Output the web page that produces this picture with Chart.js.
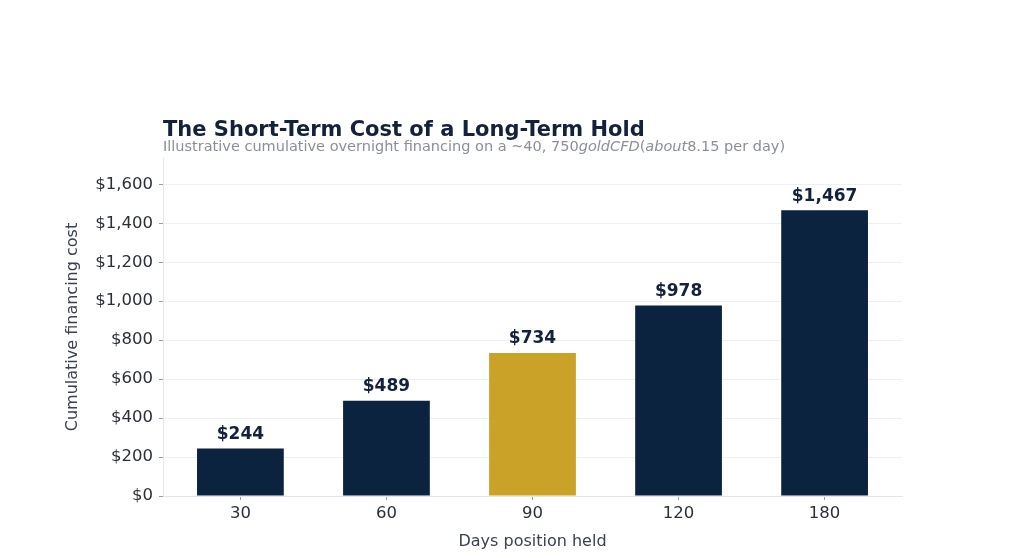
<!DOCTYPE html>
<html>
<head>
<meta charset="utf-8">
<script src="https://cdn.jsdelivr.net/npm/chart.js@4.4.1/dist/chart.umd.min.js"></script>
<style>
  html,body{margin:0;padding:0;background:#fff;}
  #wrap{width:1024px;height:558px;position:relative;}
</style>
</head>
<body>
<div id="wrap"><canvas id="c" width="1024" height="558"></canvas></div>
<script>
const categories = ["30", "60", "90", "120", "180"];
const costValues = [244, 489, 734, 978, 1467];
const valueLabels = ["$244", "$489", "$734", "$978", "$1,467"];
const highlightIndex = 2;
const chartTitle = "The Short-Term Cost of a Long-Term Hold";
const subtitleParts = [
  ["Illustrative cumulative overnight financing on a ~40, 750", "normal"],
  ["goldCFD", "italic"],
  ["(", "normal"],
  ["about", "italic"],
  ["8.15 per day)", "normal"]
];
const yAxisTitle = "Cumulative financing cost";
const xAxisTitle = "Days position held";

const NAVY = "#0c2340";
const GOLD = "#c9a227";
const FONT = "'DejaVu Sans', sans-serif";

const titlePlugin = {
  id: "titlePlugin",
  afterDraw(chart) {
    const ctx = chart.ctx;
    const x0 = 163;
    ctx.save();
    ctx.textBaseline = "middle";
    ctx.textAlign = "left";
    ctx.fillStyle = "#13213b";
    ctx.font = "bold 21px " + FONT;
    ctx.fillText(chartTitle, x0, 131);
    let x = x0;
    ctx.fillStyle = "#8a8f98";
    for (const [txt, style] of subtitleParts) {
      ctx.font = (style === "italic" ? "italic " : "") + "14.5px " + FONT;
      ctx.fillText(txt, x, 147);
      x += ctx.measureText(txt).width;
    }
    ctx.restore();
  }
};

const labelPlugin = {
  id: "labelPlugin",
  afterDatasetsDraw(chart) {
    const ctx = chart.ctx;
    const meta = chart.getDatasetMeta(0);
    ctx.save();
    ctx.font = "bold 17px " + FONT;
    ctx.fillStyle = "#13213b";
    ctx.textAlign = "center";
    ctx.textBaseline = "middle";
    meta.data.forEach((bar, i) => {
      ctx.fillText(valueLabels[i], bar.x, bar.y - 14);
    });
    ctx.restore();
  }
};

new Chart(document.getElementById("c"), {
  type: "bar",
  data: {
    datasets: [{
      data: costValues.map((v, i) => ({ x: i, y: v })),
      backgroundColor: costValues.map((v, i) => i === highlightIndex ? GOLD : NAVY),
      borderWidth: 0,
      categoryPercentage: 1.0,
      barPercentage: 0.594
    }]
  },
  options: {
    responsive: false,
    animation: false,
    devicePixelRatio: 1,
    layout: { padding: { left: 0, right: 122, top: 158, bottom: 0 } },
    plugins: { legend: { display: false }, tooltip: { enabled: false }, title: { display: false } },
    scales: {
      x: {
        type: "linear",
        min: -0.53,
        max: categories.length - 1 + 0.53,
        offset: false,
        grid: { display: true, offset: false, color: "rgba(0,0,0,0)", drawOnChartArea: false, drawTicks: true, tickLength: 4, tickColor: "#9aa0a8" },
        border: { display: true, color: "#e3e6ea", width: 1 },
        ticks: {
          stepSize: 1,
          color: "#2b2f3a",
          font: { family: FONT, size: 16.5 },
          padding: 4,
          callback: (v) => categories[v]
        },
        afterBuildTicks(scale) {
          scale.ticks = categories.map((c, i) => ({ value: i }));
        },
        title: { display: true, text: xAxisTitle, color: "#3a4150", font: { family: FONT, size: 16 }, padding: { top: 0, bottom: 7 } },
        afterFit(scale) { scale.height = 62; }
      },
      y: {
        min: 0,
        max: 1735,
        ticks: {
          stepSize: 200,
          color: "#2b2f3a",
          font: { family: FONT, size: 16.5 },
          padding: 6,
          callback: (v) => "$" + Number(v).toLocaleString("en-US")
        },
        afterBuildTicks(scale) { scale.ticks = scale.ticks.filter(t => t.value % 200 === 0); },
        grid: { color: "#edf0f3", lineWidth: 1, drawTicks: true, tickLength: 4, tickColor: "#9aa0a8" },
        border: { display: true, color: "#e3e6ea", width: 1 },
        title: { display: true, text: yAxisTitle, color: "#3a4150", font: { family: FONT, size: 16 }, padding: { top: 63, bottom: 0 } },
        afterFit(scale) { scale.width = 163; }
      }
    }
  },
  plugins: [titlePlugin, labelPlugin]
});
</script>
</body>
</html>
